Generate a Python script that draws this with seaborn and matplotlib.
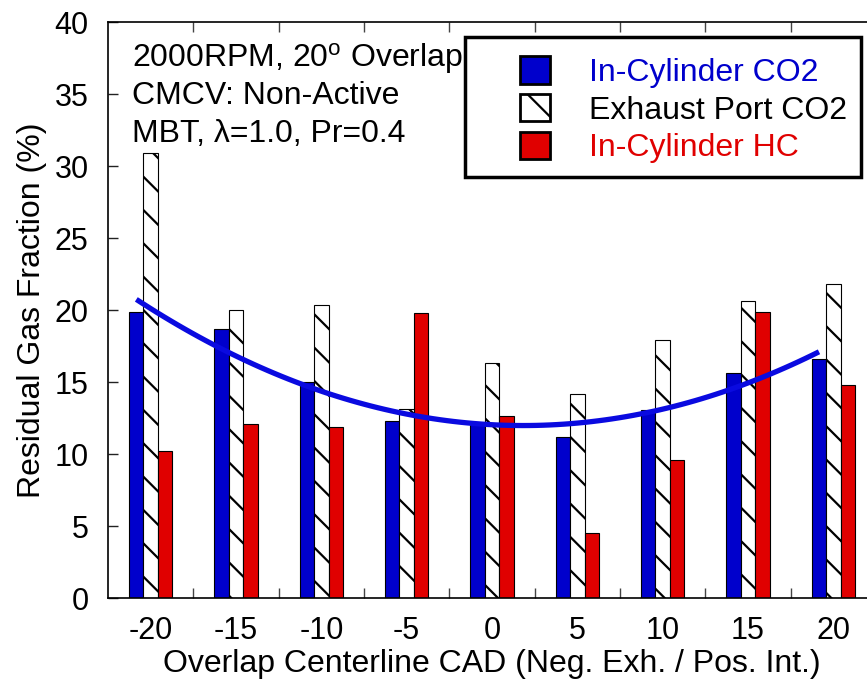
import numpy as np
import pandas as pd
import matplotlib
matplotlib.use("Agg")
import matplotlib.pyplot as plt
from matplotlib.patches import Patch, Rectangle
import seaborn as sns

# ---------------- data ----------------
cad = ["-20", "-15", "-10", "-5", "0", "5", "10", "15", "20"]
in_cyl_co2 = [19.85, 18.7, 15.0, 12.3, 12.15, 11.2, 13.05, 15.6, 16.6]
exh_port_co2 = [30.9, 20.0, 20.35, 13.15, 16.35, 14.15, 17.9, 20.65, 21.8]
in_cyl_hc = [10.2, 12.1, 11.85, 19.8, 12.65, 4.5, 9.6, 19.85, 14.8]
series_names = ["In-Cylinder CO2", "Exhaust Port CO2", "In-Cylinder HC"]
yticks = [0, 5, 10, 15, 20, 25, 30, 35, 40]

BLUE = "#0000CC"
RED = "#E00000"
LINE_BLUE = "#0A0AE0"

df = pd.DataFrame({
    "cad": cad * 3,
    "val": in_cyl_co2 + exh_port_co2 + in_cyl_hc,
    "series": [series_names[0]] * 9 + [series_names[1]] * 9 + [series_names[2]] * 9,
})

sns.set_style("white")
plt.rcParams["font.family"] = ["Liberation Sans", "DejaVu Sans"]
plt.rcParams["mathtext.fontset"] = "custom"
plt.rcParams["mathtext.rm"] = "Liberation Sans"
plt.rcParams["mathtext.it"] = "Liberation Sans:italic"
plt.rcParams["hatch.linewidth"] = 1.6
plt.rcParams["hatch.color"] = "black"
for k in ["text.color", "axes.labelcolor", "xtick.color", "ytick.color"]:
    plt.rcParams[k] = "black"

FS = 23
TFS = 22

fig = plt.figure(figsize=(8.67, 6.88), dpi=100)
W, H = 867, 688
ax = fig.add_axes([108 / W, (H - 598) / H, (876 - 108) / W, (598 - 22) / H])

group_w = 0.504
sns.barplot(data=df, x="cad", y="val", hue="series", order=cad,
            hue_order=series_names, palette=[BLUE, "white", RED],
            width=group_w, gap=0, dodge=True, saturation=1,
            edgecolor="black", linewidth=0.8, errorbar=None,
            legend=False, ax=ax)

for p in ax.patches:
    fc = p.get_facecolor()
    if fc[0] > 0.9 and fc[1] > 0.9 and fc[2] > 0.9:
        p.set_hatch("\\")

# quadratic trend line through the in-cylinder CO2 values (at the blue bar positions)
bar_w = group_w / 3
blue_pos = np.arange(len(cad)) - bar_w
sns.regplot(x=blue_pos, y=np.array(in_cyl_co2), order=2, ci=None,
            scatter=False, truncate=True,
            line_kws=dict(color=LINE_BLUE, lw=3.8, solid_capstyle="butt"), ax=ax)

ax.set_xlim(-0.5, len(cad) - 0.5)
ax.set_ylim(0, 40)
ax.set_yticks(yticks)
ax.set_yticklabels([str(v) for v in yticks], fontsize=TFS)
ax.set_xticks(range(len(cad)))
ax.set_xticklabels(cad, fontsize=TFS)
ax.set_xticks(np.arange(len(cad) - 1) + 0.5, minor=True)

ax.tick_params(axis="x", which="major", length=0, pad=13)
ax.tick_params(axis="x", which="minor", direction="in", length=7, width=1,
               color="#444444", top=True, bottom=True)
ax.tick_params(axis="y", which="major", direction="in", length=7, width=1,
               color="#222222", pad=14, left=True, right=False)

for s in ["left", "bottom", "top"]:
    ax.spines[s].set_visible(True)
    ax.spines[s].set_color("black")
    ax.spines[s].set_linewidth(1.2)
ax.spines["right"].set_visible(False)

ax.set_xlabel("Overlap Centerline CAD (Neg. Exh. / Pos. Int.)", fontsize=FS, labelpad=2)
ax.set_ylabel("Residual Gas Fraction (%)", fontsize=FS, labelpad=5)

# annotation
tx = 132 / W
fig.text(tx, 1 - 67 / H, "2000RPM, 20$^{\\mathrm{o}}$ Overlap", fontsize=FS, va="baseline")
fig.text(tx, 1 - 103.5 / H, "CMCV: Non-Active", fontsize=FS, va="baseline")
fig.text(tx, 1 - 141.7 / H, "MBT, \u03bb=1.0, Pr=0.4", fontsize=FS, va="baseline")

# legend frame (drawn inside the axes, beneath the legend)
frame = Rectangle((465 / W, 1 - 177 / H), (861 - 465) / W, (177 - 37) / H,
                  transform=fig.transFigure, facecolor="white", edgecolor="black",
                  linewidth=2.5, zorder=9, clip_on=False)
ax.add_patch(frame)

handles = [
    Patch(facecolor=BLUE, edgecolor="black", linewidth=2),
    Patch(facecolor="white", edgecolor="black", linewidth=2, hatch="\\"),
    Patch(facecolor=RED, edgecolor="black", linewidth=2),
]
leg = ax.legend(handles, series_names, loc="upper left",
                bbox_to_anchor=(520 / W, 1 - 56 / H), bbox_transform=fig.transFigure,
                fontsize=FS, frameon=False, handlelength=0.95, handleheight=0.95,
                handletextpad=1.2, labelspacing=0.19, borderpad=0,
                borderaxespad=0, ncols=1)
leg.set_zorder(10)
for t, c in zip(leg.get_texts(), [BLUE, "black", RED]):
    t.set_color(c)

fig.savefig("out.png", dpi=100)
